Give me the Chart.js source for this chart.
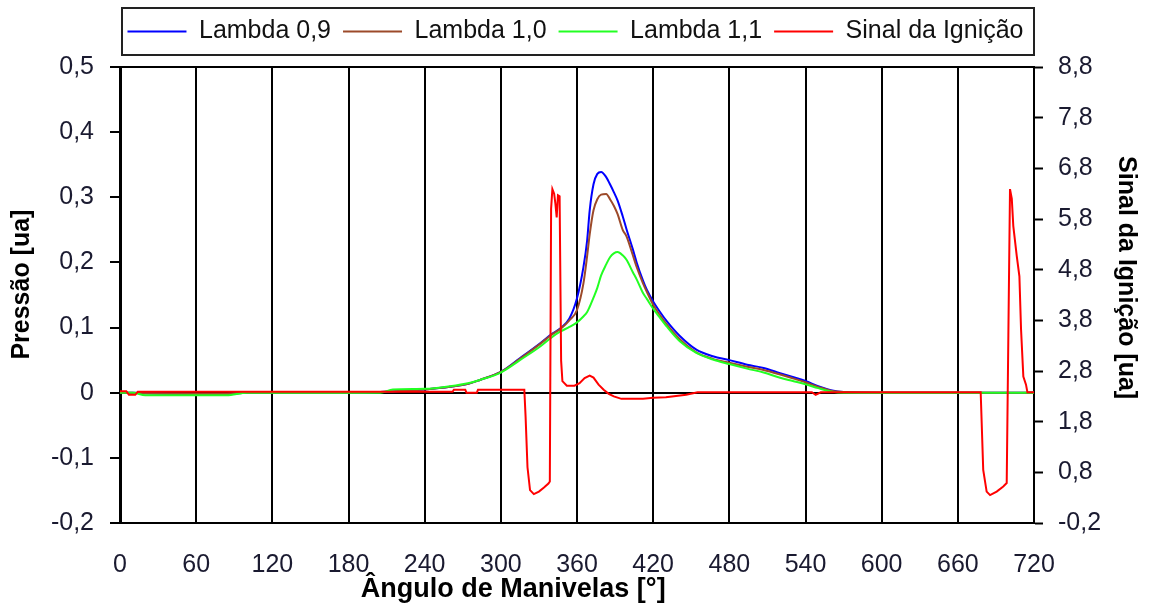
<!DOCTYPE html>
<html lang="pt">
<head>
<meta charset="utf-8">
<title>Pressão e Sinal da Ignição</title>
<script src="https://cdn.jsdelivr.net/npm/chart.js@4.4.1/dist/chart.umd.min.js"></script>
<style>
  html, body { margin: 0; padding: 0; background: #fff; }
  #wrap { width: 1151px; height: 607px; position: relative; }
</style>
</head>
<body>
<div id="wrap"><canvas id="grafico"></canvas></div>
<script>
// ---- dados ----
const anguloPressao = [0, 10, 20, 60, 84, 100, 140, 180, 205, 215, 240, 260, 275, 284, 300, 315, 331, 340, 347, 354,
  360, 365, 368, 370, 373, 376, 379, 383, 386, 389, 392, 396, 399, 404, 407, 412, 415, 420, 425, 431,
  441, 454, 467, 480, 494, 507, 520, 530, 540, 550, 560, 570, 600, 660, 720];

const lambda09 = [0, 0, -0.001, -0.002, -0.002, 0, 0, 0, 0.001, 0.002, 0.005, 0.009, 0.014, 0.020, 0.032, 0.053, 0.076, 0.090, 0.099, 0.114,
  0.145, 0.192, 0.234, 0.280, 0.320, 0.336, 0.339, 0.331, 0.320, 0.308, 0.295, 0.271, 0.251, 0.220, 0.200, 0.172, 0.158, 0.140, 0.125, 0.109,
  0.087, 0.066, 0.056, 0.050, 0.043, 0.038, 0.030, 0.024, 0.018, 0.010, 0.004, 0.001, 0, 0, 0];

const lambda10 = [0, 0, -0.001, -0.002, -0.002, 0, 0, 0, 0.001, 0.002, 0.005, 0.009, 0.014, 0.020, 0.032, 0.052, 0.075, 0.089, 0.098, 0.111,
  0.127, 0.167, 0.210, 0.243, 0.280, 0.297, 0.304, 0.305, 0.297, 0.287, 0.274, 0.250, 0.240, 0.211, 0.193, 0.168, 0.155, 0.135, 0.120, 0.104,
  0.082, 0.062, 0.052, 0.046, 0.040, 0.035, 0.028, 0.022, 0.016, 0.009, 0.003, 0.001, 0, 0, 0];

const lambda11 = [0, 0, -0.004, -0.004, -0.004, 0, 0, 0, 0, 0.005, 0.006, 0.010, 0.015, 0.020, 0.031, 0.050, 0.071, 0.085, 0.094, 0.101,
  0.108, 0.117, 0.124, 0.132, 0.146, 0.161, 0.180, 0.197, 0.208, 0.214, 0.216, 0.211, 0.204, 0.185, 0.174, 0.153, 0.144, 0.129, 0.116, 0.101,
  0.079, 0.061, 0.051, 0.044, 0.037, 0.031, 0.023, 0.018, 0.013, 0.007, 0.002, 0, 0, 0, 0];

const anguloSinal = [0, 5, 7, 12, 14, 262, 263, 272, 273, 281, 282, 318.5, 319.5, 321, 323, 326, 330, 334, 337.5, 338.6,
  339.6, 340.6, 342, 343, 344, 345, 346.3, 347.5, 348.5, 352, 358, 362, 366, 370, 373, 377, 381, 385, 389, 395,
  412, 420, 430, 446, 455, 545, 548, 552, 678, 678.8, 680, 682.7, 685.4, 690.6, 695.8, 698.5, 699.8, 701.1, 702.5, 703.7,
  706.4, 708.5, 709.8, 711.6, 713.7, 714.8, 720];

const sinalIgnicao = [2.40, 2.40, 2.33, 2.33, 2.39, 2.39, 2.43, 2.43, 2.37, 2.37, 2.43, 2.43, 1.9, 0.9, 0.45, 0.37, 0.42, 0.50, 0.58, 0.62,
  6.0, 6.39, 6.3, 6.1, 5.83, 6.27, 6.25, 3.0, 2.6, 2.51, 2.51, 2.56, 2.66, 2.71, 2.67, 2.53, 2.43, 2.35, 2.30, 2.25,
  2.25, 2.27, 2.28, 2.33, 2.38, 2.38, 2.33, 2.38, 2.38, 1.77, 0.85, 0.42, 0.35, 0.42, 0.52, 0.59, 3.5, 6.39, 6.2, 5.66,
  5.07, 4.67, 3.62, 2.69, 2.53, 2.38, 2.38];

const ticksAngulo = [0, 60, 120, 180, 240, 300, 360, 420, 480, 540, 600, 660, 720];
const ticksPressao = [-0.2, -0.1, 0, 0.1, 0.2, 0.3, 0.4, 0.5];
const ticksSinal = [-0.2, 0.8, 1.8, 2.8, 3.8, 4.8, 5.8, 6.8, 7.8, 8.8];

const pontos = (xs, ys) => xs.map((x, i) => ({ x, y: ys[i] }));
const virgula = v => String(Math.round(v * 10) / 10).replace('.', ',');
const corTexto = '#1a1a30';

Chart.defaults.font.family = '"Liberation Sans", Arial, sans-serif';
Chart.defaults.font.size = 25;
Chart.defaults.color = corTexto;

// caixa da legenda + altura fixa da legenda
const caixaLegenda = {
  id: 'caixaLegenda',
  beforeInit(chart) {
    const fit = chart.legend.fit;
    chart.legend.fit = function () { fit.call(this); this.height = 60; };
  },
  afterDraw(chart) {
    const { ctx, chartArea, legend } = chart;
    ctx.save();
    ctx.strokeStyle = '#222';
    ctx.lineWidth = 2;
    ctx.strokeRect(chartArea.left + 2, legend.top + 1, chartArea.right - chartArea.left - 2, 47);
    ctx.restore();
  }
};

const linhasPretas = [0.5, 0, -0.2];

new Chart(document.getElementById('grafico'), {
  type: 'line',
  data: {
    datasets: [
      { label: 'Lambda 0,9', data: pontos(anguloPressao, lambda09), borderColor: '#0000ff', backgroundColor: '#0000ff',
        borderWidth: 2, pointRadius: 0, cubicInterpolationMode: 'monotone', yAxisID: 'y', order: 4 },
      { label: 'Lambda 1,0', data: pontos(anguloPressao, lambda10), borderColor: '#9c4a2a', backgroundColor: '#9c4a2a',
        borderWidth: 2, pointRadius: 0, cubicInterpolationMode: 'monotone', yAxisID: 'y', order: 3 },
      { label: 'Lambda 1,1', data: pontos(anguloPressao, lambda11), borderColor: '#22ff22', backgroundColor: '#22ff22',
        borderWidth: 2, pointRadius: 0, cubicInterpolationMode: 'monotone', yAxisID: 'y', order: 2 },
      { label: 'Sinal da Ignição', data: pontos(anguloSinal, sinalIgnicao), borderColor: '#ff0000', backgroundColor: '#ff0000',
        borderWidth: 2, pointRadius: 0, tension: 0, yAxisID: 'y2', order: 1 }
    ]
  },
  options: {
    responsive: true,
    maintainAspectRatio: false,
    animation: false,
    layout: { padding: { top: 7, left: 0, right: 0, bottom: 0 } },
    plugins: {
      tooltip: { enabled: false },
      legend: {
        position: 'top',
        labels: {
          usePointStyle: true, pointStyle: 'line', pointStyleWidth: 59,
          padding: 12, color: '#111', font: { size: 25 },
          sort: (a, b) => a.datasetIndex - b.datasetIndex
        }
      }
    },
    scales: {
      x: {
        type: 'linear', min: 0, max: 720,
        afterBuildTicks: s => { s.ticks = ticksAngulo.map(value => ({ value })); },
        afterFit: s => { s.height = 84; },
        ticks: { autoSkip: false, maxRotation: 0, padding: 27, color: corTexto },
        grid: { color: '#000', lineWidth: 2, drawTicks: false },
        border: { display: false },
        title: {
          display: true,
          // espaços no fim deslocam o título para a esquerda, como no original
          text: 'Ângulo de Manivelas [°]' + ' '.repeat(17),
          font: { size: 27, weight: 'bold' }, color: '#000',
          padding: { top: 0, bottom: 1 }
        }
      },
      y: {
        position: 'left', min: -0.2, max: 0.5,
        afterBuildTicks: s => { s.ticks = ticksPressao.map(value => ({ value })); },
        afterFit: s => { s.width = 120; },
        ticks: { padding: 16, color: corTexto, callback: virgula },
        grid: {
          color: c => (linhasPretas.includes(c.tick.value) ? '#000' : 'rgba(0,0,0,0)'),
          lineWidth: 2, tickLength: 10, tickColor: '#000', tickWidth: 2
        },
        border: { color: '#000', width: 3 },
        title: {
          display: true, text: '   Pressão [ua]',
          font: { size: 25, weight: 'bold' }, color: '#000',
          padding: { top: 7, bottom: 0 }
        }
      },
      y2: {
        position: 'right', min: -0.2, max: 8.8,
        afterBuildTicks: s => { s.ticks = ticksSinal.map(value => ({ value })); },
        afterFit: s => { s.width = 117; },
        ticks: { padding: 15, color: corTexto, callback: v => v.toFixed(1).replace('.', ',') },
        grid: { drawOnChartArea: false, tickLength: 9, tickColor: '#000', tickWidth: 2 },
        border: { color: '#000', width: 2 },
        title: {
          display: true, text: 'Sinal da Ignição [ua]     ',
          font: { size: 25, weight: 'bold' }, color: '#000',
          padding: { top: 10, bottom: 0 }
        }
      }
    }
  },
  plugins: [caixaLegenda]
});
</script>
</body>
</html>
